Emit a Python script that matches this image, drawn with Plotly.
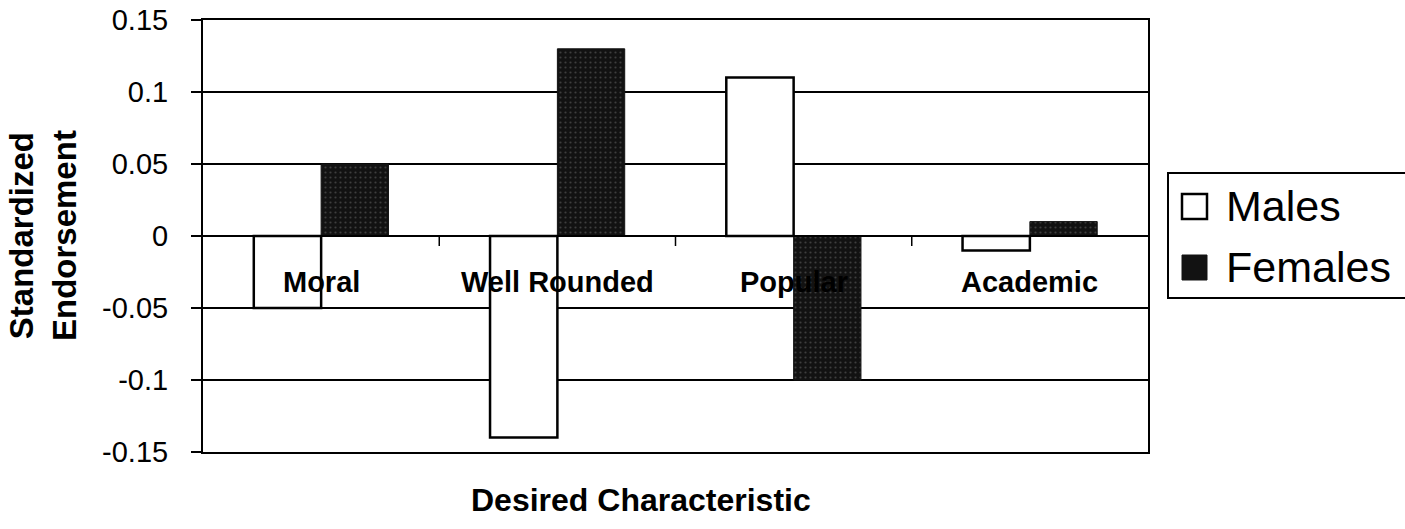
import plotly.graph_objects as go

categories = ["Moral", "Well Rounded", "Popular", "Academic"]
males = [-0.05, -0.14, 0.11, -0.01]
females = [0.05, 0.13, -0.10, 0.01]
series_names = ["Males", "Females"]
y_ticks = [0.15, 0.1, 0.05, 0, -0.05, -0.1, -0.15]
y_tick_text = ["0.15", "0.1", "0.05", "0", "-0.05", "-0.1", "-0.15"]

W, H = 1405, 529
L, R, T, B = 203, 1148, 20, 452


def px(x):
    return (x - L) / (R - L)


def py(y):
    return (B - y) / (B - T)


FONT = "Liberation Sans, Arial, sans-serif"

fig = go.Figure()
fig.add_trace(go.Bar(
    x=categories, y=males, name=series_names[0],
    marker=dict(color="white", line=dict(color="black", width=2.5)),
    showlegend=False,
))
fig.add_trace(go.Bar(
    x=categories, y=females, name=series_names[1],
    marker=dict(color="#121212", line=dict(color="#121212", width=1),
                pattern=dict(shape=".", fgcolor="#6a6a6a", bgcolor="#121212",
                             size=5, solidity=0.15)),
    showlegend=False,
))

shapes = []
for i in range(len(categories) - 1):
    shapes.append(dict(type="line", xref="x", yref="y", x0=i + 0.5, x1=i + 0.5,
                       ysizemode="pixel", yanchor=0, y0=0, y1=-10,
                       line=dict(color="black", width=1.5)))
shapes.append(dict(type="line", xref="paper", yref="y", x0=0, x1=1, y0=0, y1=0,
                   line=dict(color="black", width=2), layer="above"))
# legend
shapes.append(dict(type="rect", xref="paper", yref="paper",
                   x0=px(1168), x1=px(1425), y0=py(298), y1=py(173),
                   line=dict(color="black", width=2), fillcolor="white"))
shapes.append(dict(type="rect", xref="paper", yref="paper",
                   x0=px(1182), x1=px(1207), y0=py(219), y1=py(194),
                   line=dict(color="black", width=2.5), fillcolor="white"))
shapes.append(dict(type="rect", xref="paper", yref="paper",
                   x0=px(1182), x1=px(1207), y0=py(280), y1=py(255),
                   line=dict(color="#121212", width=1), fillcolor="#121212"))

annotations = []
for c in categories:
    annotations.append(dict(x=c, y=0, xref="x", yref="y", text=f"<b>{c}</b>",
                            showarrow=False, yshift=-46, yanchor="middle",
                            font=dict(family=FONT, size=29, color="black")))
annotations.append(dict(x=px(1224), y=py(206), xref="paper", yref="paper",
                        text=series_names[0], showarrow=False, xanchor="left",
                        yanchor="middle", font=dict(family=FONT, size=43, color="black")))
annotations.append(dict(x=px(1224), y=py(267), xref="paper", yref="paper",
                        text=series_names[1], showarrow=False, xanchor="left",
                        yanchor="middle", font=dict(family=FONT, size=43, color="black")))
annotations.append(dict(x=px(43), y=py(236), xref="paper", yref="paper",
                        text="<b>Standardized<br>Endorsement</b>", textangle=-90,
                        showarrow=False, xanchor="center", yanchor="middle",
                        borderpad=0,
                        font=dict(family=FONT, size=33, color="black")))
annotations.append(dict(x=px(641), y=py(500), xref="paper", yref="paper",
                        text="<b>Desired Characteristic</b>", showarrow=False,
                        xanchor="center", yanchor="middle",
                        font=dict(family=FONT, size=32, color="black")))

fig.update_layout(
    width=W, height=H,
    margin=dict(l=L, r=W - R, t=T, b=H - B),
    paper_bgcolor="white", plot_bgcolor="white",
    barmode="group", bargap=0.43, bargroupgap=0,
    shapes=shapes, annotations=annotations,
    showlegend=False,
    font=dict(family=FONT, color="black"),
)
fig.update_xaxes(showticklabels=False, ticks="", showgrid=False, zeroline=False,
                 showline=True, linecolor="black", linewidth=2, mirror=True,
                 range=[-0.5, 3.5], automargin=False)
fig.update_yaxes(range=[-0.15, 0.15], tickvals=y_ticks, ticktext=y_tick_text,
                 ticks="outside", ticklen=10, tickcolor="black", tickwidth=1.5,
                 showgrid=True, gridcolor="black", gridwidth=1.5,
                 zeroline=False, showline=True, linecolor="black", linewidth=2,
                 mirror=True, ticklabelstandoff=17, ticklabeloverflow="allow",
                 automargin=False,
                 tickfont=dict(family=FONT, size=29, color="black"))

fig.write_html("out.html",
               config={"displayModeBar": False},
               post_script="document.body.style.margin='0';document.body.style.overflow='hidden';")
